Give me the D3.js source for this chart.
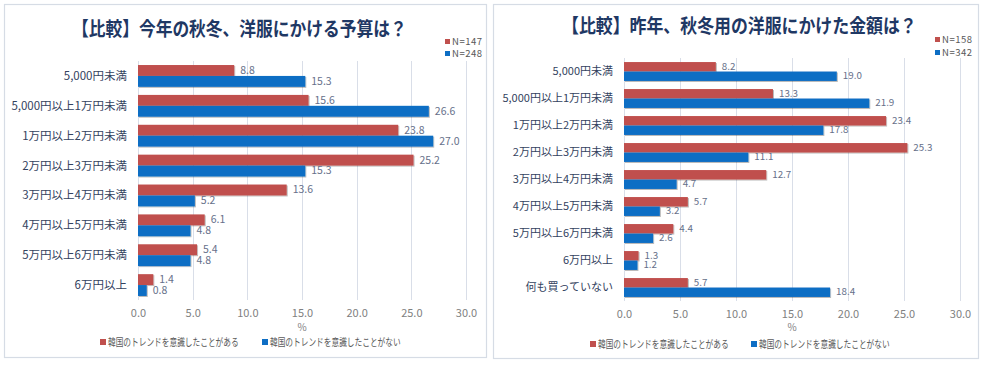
<!DOCTYPE html>
<html><head><meta charset="utf-8">
<script src="https://cdn.jsdelivr.net/npm/d3@7"></script>
<style>
body{margin:0;background:#fff;}
svg{display:block;font-family:"Noto Sans CJK JP","Noto Sans",sans-serif;}
</style></head><body>
<svg id="c" width="985" height="367"></svg>
<script>
// ---- data ----
const titleLeft = "【比較】今年の秋冬、洋服にかける予算は？";
const categoriesLeft = ["5,000円未満","5,000円以上1万円未満","1万円以上2万円未満","2万円以上3万円未満","3万円以上4万円未満","4万円以上5万円未満","5万円以上6万円未満","6万円以上"];
const awareLeft = [8.8,15.6,23.8,25.2,13.6,6.1,5.4,1.4];
const notAwareLeft = [15.3,26.6,27.0,15.3,5.2,4.8,4.8,0.8];
const nLeft = ["N=147","N=248"];

const titleRight = "【比較】昨年、秋冬用の洋服にかけた金額は？";
const categoriesRight = ["5,000円未満","5,000円以上1万円未満","1万円以上2万円未満","2万円以上3万円未満","3万円以上4万円未満","4万円以上5万円未満","5万円以上6万円未満","6万円以上","何も買っていない"];
const awareRight = [8.2,13.3,23.4,25.3,12.7,5.7,4.4,1.3,5.7];
const notAwareRight = [19.0,21.9,17.8,11.1,4.7,3.2,2.6,1.2,18.4];
const nRight = ["N=158","N=342"];

const seriesNames = ["韓国のトレンドを意識したことがある","韓国のトレンドを意識したことがない"];
const xTicks = [0,5,10,15,20,25,30];
const axisUnit = "%";

const colors = ["#C0504D","#0E6EC4"];
const svg = d3.select("#c");
const defs = svg.append("defs");
defs.append("filter").attr("id","sh").attr("x","-5%").attr("y","-20%").attr("width","115%").attr("height","160%")
  .append("feDropShadow").attr("dx",1).attr("dy",1).attr("stdDeviation",0.7)
  .attr("flood-color","#000").attr("flood-opacity",0.28);

// fit a text element horizontally to a target width using a transform
function fitText(sel, x0, y0, w){
  const natural = sel.node().getComputedTextLength();
  const s = w / natural;
  sel.attr("x",0).attr("y",0).attr("transform",`translate(${x0},${y0}) scale(${s},1)`);
}

function panel(cfg){
  const g = svg.append("g");
  g.append("rect").attr("x",cfg.box[0]+0.5).attr("y",cfg.box[1]+0.5)
    .attr("width",cfg.box[2]).attr("height",cfg.box[3])
    .attr("fill","#fff").attr("stroke","#D6DCE5").attr("stroke-width",1.2);
  const tt = g.append("text").attr("font-size",19.5).attr("font-weight","bold").attr("fill","#1F3864").text(cfg.title);
  fitText(tt, cfg.titleX, cfg.titleY, cfg.titleW);

  const x = d3.scaleLinear().domain([0,30]).range(cfg.xr);
  const y = d3.scaleBand().domain(cfg.cats).range(cfg.yr).paddingInner(cfg.pad).paddingOuter(cfg.pad/2);
  const sub = d3.scaleBand().domain([0,1]).range([0,y.bandwidth()]);

  // grid
  g.append("g").selectAll("line").data(xTicks).join("line")
    .attr("x1",d=>Math.round(x(d))+0.5).attr("x2",d=>Math.round(x(d))+0.5)
    .attr("y1",cfg.yr[0]).attr("y2",cfg.yr[1]).attr("stroke","#D9DEE8").attr("stroke-width",1);
  // axis labels
  const ax = g.append("g").attr("transform",`translate(0,${cfg.yr[1]})`)
    .call(d3.axisBottom(x).tickValues(xTicks).tickFormat(d3.format(".1f")).tickSize(0).tickPadding(9));
  ax.select(".domain").remove();
  ax.selectAll("text").attr("font-size",11).attr("fill","#7F7F7F").attr("font-family","\"Noto Sans CJK JP\",sans-serif");
  g.append("text").attr("x",(cfg.xr[0]+cfg.xr[1])/2).attr("y",cfg.unitY).attr("text-anchor","middle")
    .attr("font-size",10).attr("fill","#7F7F7F").text(axisUnit);

  // category labels
  g.append("g").selectAll("text").data(cfg.cats).join("text")
    .attr("x",cfg.xr[0]-11).attr("y",d=>y(d)+y.bandwidth()/2).attr("dy","0.35em")
    .attr("text-anchor","end").attr("font-size",cfg.catFont).attr("fill","#33425E").text(d=>d);

  const series = [cfg.a, cfg.b];
  series.forEach((vals,si)=>{
    const sg = g.append("g");
    sg.selectAll("rect").data(vals).join("rect")
      .attr("x",x(0)).attr("y",(d,i)=>y(cfg.cats[i])+sub(si))
      .attr("width",d=>x(d)-x(0)).attr("height",sub.bandwidth())
      .attr("fill",colors[si]).attr("filter","url(#sh)");
    sg.selectAll("text").data(vals).join("text")
      .attr("x",d=>x(d)+6).attr("y",(d,i)=>y(cfg.cats[i])+sub(si)+sub.bandwidth()/2).attr("dy","0.33em")
      .attr("font-size",cfg.valFont).attr("fill","#66708A").text(d=>d.toFixed(1));
  });

  // N legend
  cfg.ns.forEach((t,i)=>{
    g.append("rect").attr("x",cfg.nX).attr("y",cfg.nY[i]-3).attr("width",5).attr("height",5).attr("fill",colors[i]);
    g.append("text").attr("x",cfg.nX+7).attr("y",cfg.nY[i]).attr("dy","0.35em").attr("font-size",9.5)
      .attr("fill","#595959").attr("textLength",30).attr("lengthAdjust","spacing").text(t);
  });
  // bottom legend
  seriesNames.forEach((t,i)=>{
    g.append("rect").attr("x",cfg.legX[i]).attr("y",cfg.legY-3).attr("width",6).attr("height",6).attr("fill",colors[i]);
    const lt = g.append("text").attr("dy","0.35em").attr("font-size",10.5).attr("fill","#595959").text(t);
    fitText(lt, cfg.legX[i]+8, cfg.legY, 131);
  });
}

panel({box:[4,4,482,353], title:titleLeft, titleX:72, titleW:335, titleY:36,
  xr:[138,466], yr:[61,300], pad:0.27, cats:categoriesLeft, a:awareLeft, b:notAwareLeft,
  catFont:11.5, valFont:10.5, unitY:331, ns:nLeft, nX:445, nY:[42,54], legX:[100,262], legY:342});
panel({box:[493,4,485,354], title:titleRight, titleX:562, titleW:355, titleY:33,
  xr:[624,960], yr:[58,301], pad:0.3, cats:categoriesRight, a:awareRight, b:notAwareRight,
  catFont:11, valFont:9.8, unitY:331, ns:nRight, nX:935, nY:[40,53], legX:[590,751], legY:344});
</script>
</body></html>
